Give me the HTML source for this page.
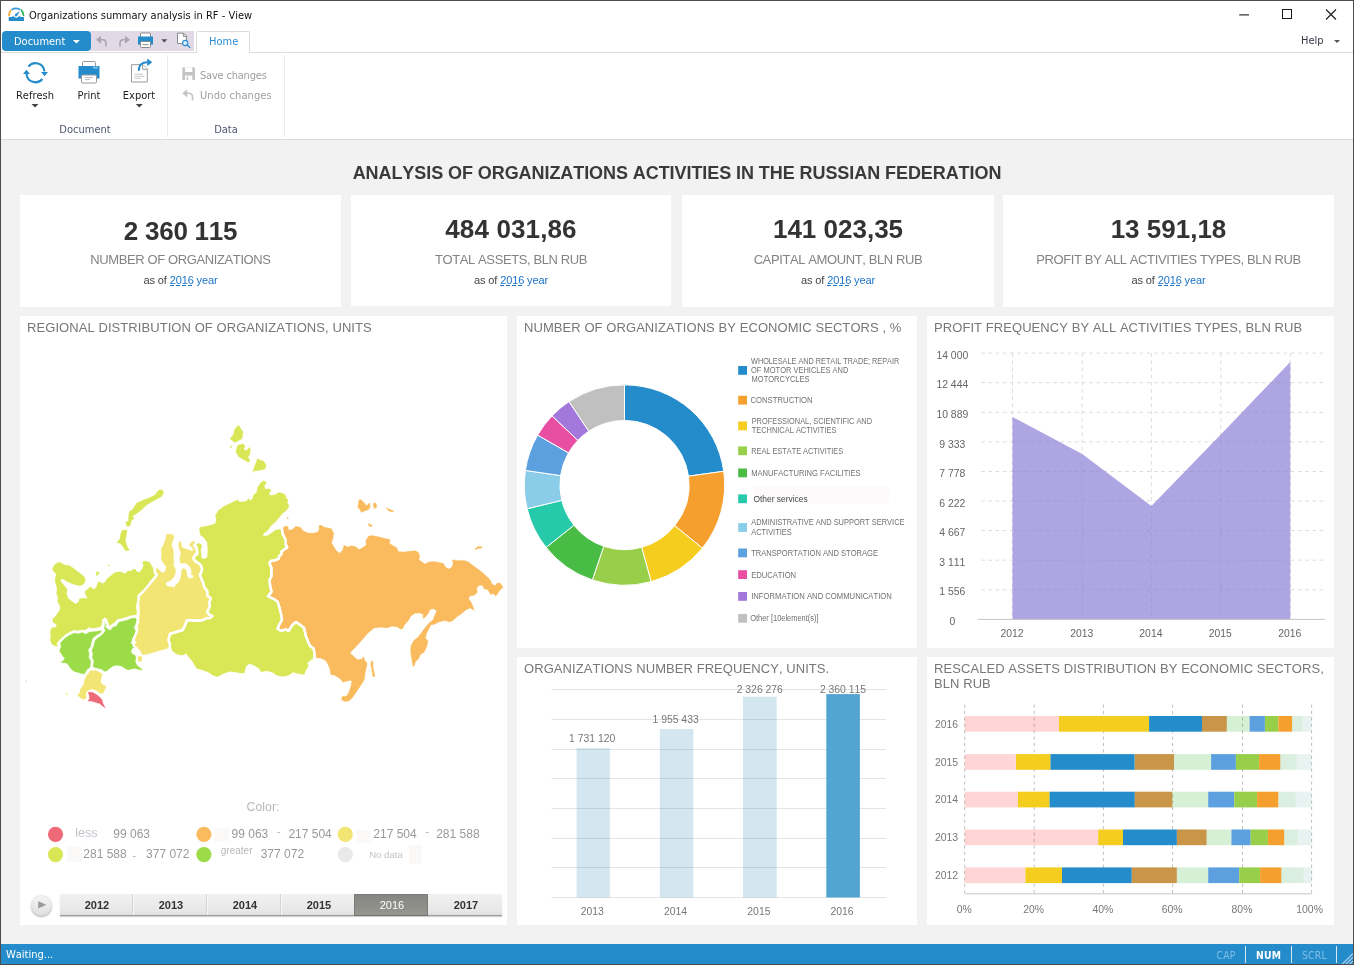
<!DOCTYPE html>
<html lang="en">
<head>
<meta charset="utf-8">
<title>Organizations summary analysis in RF - View</title>
<style>
*{box-sizing:border-box;margin:0;padding:0}
html,body{width:1354px;height:965px;overflow:hidden;background:#f2f2f2}
body{position:relative;font-kerning:none;font-family:"Liberation Sans",Arial,sans-serif;font-size:12px;color:#333}
.abs{position:absolute}
.t{position:absolute;white-space:pre;line-height:1}
.ui{font-family:"DejaVu Sans Condensed","DejaVu Sans","Liberation Sans",sans-serif;font-size:11px;letter-spacing:0;color:#1e1e1e}
.panel{position:absolute;background:#fff}
.ptitle{position:absolute;left:7px;top:4px;font-size:13px;letter-spacing:.07px;color:#777;line-height:15px;white-space:pre}
.kpi{position:absolute;background:#fff;top:195px;height:112px;text-align:center}
.kpi .v{position:absolute;left:0;right:0;top:19px;font-weight:bold;font-size:26px;line-height:30px;color:#333}
.kpi .l{position:absolute;left:0;right:0;top:57px;font-size:13px;line-height:16px;color:#838383;letter-spacing:-.39px}
.kpi .d{position:absolute;left:0;right:0;top:79px;font-size:11px;line-height:13px;color:#444;letter-spacing:-.13px}
.kpi .d b{font-weight:normal;color:#1a73c8}
.kpi .d u{text-decoration:none;padding-bottom:0;background:repeating-linear-gradient(90deg,#1a73c8 0,#1a73c8 4px,transparent 4px,transparent 6px) left bottom/100% 1px no-repeat}
svg{position:absolute;left:0;top:0;overflow:visible}
svg text{font-family:"Liberation Sans",Arial,sans-serif;font-kerning:none}
</style>
</head>
<body>
<!-- ===== window chrome ===== -->
<div class="abs" style="left:0;top:0;width:1354px;height:140px;background:#fff"></div>
<!-- app icon -->
<svg width="30" height="30" viewBox="0 0 30 30">
  <path d="M10.5 10.8 Q9.2 12.6 9.1 15.4" fill="none" stroke="#f5a93b" stroke-width="1.8" stroke-linecap="round"/>
  <path d="M12.1 9.45 Q15.9 7.55 19.5 9.3" fill="none" stroke="#3b9bd8" stroke-width="1.8" stroke-linecap="round"/>
  <path d="M21.4 10.1 Q23.3 12.3 23.5 15.3" fill="none" stroke="#2fb457" stroke-width="1.8" stroke-linecap="round"/>
  <path d="M19.9 10.9 L15.4 14.1 A1.25 1.25 0 1 0 17.2 15.6 Z" fill="#2a8dd4"/>
  <path d="M8.7 21 V17.4 Q8.7 17 9.2 17 H11.8 L13 16.1 L14.4 16.9 L16.3 18 L18 16.9 L19.3 16.1 L20.6 17 H23.4 Q24 17 24 17.4 V21 Z" fill="#258ccb"/>
</svg>
<div class="t ui" style="left:29px;top:10px;color:#111">Organizations summary analysis in RF - View</div>
<!-- window buttons -->
<svg width="1354" height="30" viewBox="0 0 1354 30">
  <path d="M1239.2 14.9 H1249" stroke="#1a1a1a" stroke-width="1.1" fill="none"/>
  <rect x="1282.5" y="9.5" width="9" height="9" fill="none" stroke="#1a1a1a" stroke-width="1"/>
  <path d="M1326 9.5 L1336 19.5 M1336 9.5 L1326 19.5" stroke="#1a1a1a" stroke-width="1.1" fill="none"/>
</svg>
<!-- tab row -->
<div class="abs" style="left:0;top:52px;width:1354px;height:1px;background:#dcdcdc"></div>
<div class="abs" style="left:90px;top:31px;width:104px;height:20px;background:#e2d9e6"></div>
<div class="abs" style="left:2px;top:31px;width:89px;height:20px;background:#258ccb;border-radius:4px"></div>
<div class="t ui" style="left:14px;top:36px;color:#fff">Document</div>
<svg width="100" height="60" viewBox="0 0 100 60"><path d="M72.9 40 H79.9 L76.4 43.6 Z" fill="#fff"/></svg>
<svg width="260" height="60" viewBox="0 0 260 60">
  <!-- undo -->
  <path d="M100.5 39.8 H103 Q106 39.8 106 43.2 V46.5" fill="none" stroke="#aaa5ae" stroke-width="1.6"/>
  <path d="M96 39.8 L101 35.8 V43.8 Z" fill="#aaa5ae"/>
  <!-- redo -->
  <path d="M125.5 39.8 H123 Q120 39.8 120 43.2 V46.5" fill="none" stroke="#aaa5ae" stroke-width="1.6"/>
  <path d="M130 39.8 L125 35.8 V43.8 Z" fill="#aaa5ae"/>
  <!-- printer -->
  <rect x="140.5" y="33" width="10" height="5" rx="1" fill="#fff" stroke="#8a8a8a" stroke-width="1"/>
  <rect x="138" y="36.5" width="15" height="8" fill="#258ccb"/>
  <rect x="140.5" y="41.5" width="10" height="6" rx="1" fill="#fff" stroke="#8a8a8a" stroke-width="1"/>
  <path d="M142.5 44.6 H148.5" stroke="#8a8a8a" stroke-width="1"/>
  <!-- arrow -->
  <path d="M161.3 39.3 H167.3 L164.3 42.4 Z" fill="#4d4d4d"/>
  <!-- preview -->
  <path d="M177.5 33.2 H183.5 L186.5 36.2 V43.5 H177.5 Z" fill="#fff" stroke="#8a8a8a" stroke-width="1"/>
  <path d="M183.3 33.2 V36.4 H186.5" fill="none" stroke="#8a8a8a" stroke-width="1"/>
  <circle cx="185.2" cy="43" r="2.6" fill="#dceefa" stroke="#2a8dd4" stroke-width="1.1"/>
  <path d="M187.2 45 L190.2 47.8" stroke="#2a8dd4" stroke-width="1.3"/>
</svg>
<div class="abs" style="left:196px;top:31px;width:54px;height:22px;background:#fff;border:1px solid #dcdcdc;border-bottom:0;border-radius:2px 2px 0 0"></div>
<div class="t ui" style="left:209px;top:36px;color:#2a8dd4">Home</div>
<div class="t ui" style="left:1301px;top:35px;color:#353545">Help</div>
<svg width="1354" height="60" viewBox="0 0 1354 60"><path d="M1334 40 H1340 L1337 43 Z" fill="#555"/></svg>
<!-- ===== ribbon body ===== -->
<div class="abs" style="left:0;top:139px;width:1354px;height:1px;background:#dcdcdc"></div>
<div class="abs" style="left:167px;top:55px;width:1px;height:82px;background:#ebebeb"></div>
<div class="abs" style="left:284px;top:55px;width:1px;height:82px;background:#ebebeb"></div>
<svg width="300" height="140" viewBox="0 0 300 140">
  <!-- refresh -->
  <path d="M28.4 66.6 A9 9 0 0 1 44.4 71.5" fill="none" stroke="#258ccb" stroke-width="2.1"/>
  <path d="M41 72 H48 L44.6 76.2 Z" fill="#258ccb"/>
  <path d="M42.4 79 A9 9 0 0 1 26.5 74" fill="none" stroke="#258ccb" stroke-width="2.1"/>
  <path d="M23 74 H30 L26.4 69.8 Z" fill="#258ccb"/>
  <path d="M31.5 104 H38.5 L35 107.5 Z" fill="#444"/>
  <!-- print -->
  <rect x="82.5" y="61.5" width="13" height="6" rx="1" fill="#fff" stroke="#9a9a9a" stroke-width="1"/>
  <rect x="78.5" y="66" width="21" height="12.5" fill="#258ccb"/>
  <rect x="93" y="66.6" width="5" height="2" fill="#7fc0ea"/>
  <rect x="81.5" y="75" width="15" height="8" rx="1" fill="#fff" stroke="#9a9a9a" stroke-width="1"/>
  <path d="M85 77.6 H93 M85 79.6 H90" stroke="#bdbdbd" stroke-width="1"/>
  <!-- export -->
  <path d="M131.5 64.7 H143 L147.3 69 V82 H131.5 Z" fill="#fff" stroke="#9a9a9a" stroke-width="1"/>
  <path d="M142.6 64.7 V69.3 H147.3" fill="#fff" stroke="#9a9a9a" stroke-width="1"/>
  <path d="M134.5 74.2 H143 M134.5 76.3 H144.5 M134.5 78.4 H140.5" stroke="#c6c6c6" stroke-width="1"/>
  <path d="M138.9 70.8 Q138.5 62.2 147.5 62.2" fill="none" stroke="#258ccb" stroke-width="1.9"/>
  <path d="M147.2 58.4 L152.3 62.2 L147.2 66 Z" fill="#258ccb"/>
  <path d="M135.8 104 H142.8 L139.3 107.5 Z" fill="#444"/>
  <!-- save (disabled) -->
  <path d="M182.3 67.4 H195 V80 H182.3 Z" fill="#c4c4c4"/>
  <rect x="185" y="67.4" width="7.3" height="4.6" fill="#fff"/>
  <rect x="185" y="75.6" width="7.3" height="4.4" fill="#fff"/>
  <rect x="186.6" y="76.6" width="1.6" height="3.4" fill="#c4c4c4"/>
  <!-- undo (disabled) -->
  <path d="M186.5 93.3 H189 Q192.5 93.3 192.5 97 V100.5" fill="none" stroke="#c4c4c4" stroke-width="1.6"/>
  <path d="M182.2 93.3 L187.3 89.3 V97.3 Z" fill="#c4c4c4"/>
</svg>
<div class="t ui" style="left:0;top:90px;width:70px;text-align:center">Refresh</div>
<div class="t ui" style="left:54px;top:90px;width:70px;text-align:center">Print</div>
<div class="t ui" style="left:104px;top:90px;width:70px;text-align:center">Export</div>
<div class="t ui" style="left:200px;top:70px;color:#a0a0a0;letter-spacing:-.2px">Save changes</div>
<div class="t ui" style="left:200px;top:90px;color:#a0a0a0;letter-spacing:.1px">Undo changes</div>
<div class="t ui" style="left:35px;top:124px;width:100px;text-align:center;color:#4f5870">Document</div>
<div class="t ui" style="left:176px;top:124px;width:100px;text-align:center;color:#4f5870">Data</div>
<!-- ===== heading + KPI cards ===== -->
<div class="t" style="left:0;top:164px;width:1354px;text-align:center;font-weight:bold;font-size:18px;letter-spacing:-.07px;color:#3a3a3a">ANALYSIS OF ORGANIZATIONS ACTIVITIES IN THE RUSSIAN FEDERATION</div>
<div class="kpi" style="left:20px;width:321px"><div class="v" style="top:21px;letter-spacing:-.25px">2 360 115</div><div class="l">NUMBER OF ORGANIZATIONS</div><div class="d">as of <b><u>2016</u> year</b></div></div>
<div class="kpi" style="left:351px;width:320px;height:111px"><div class="v" style="letter-spacing:.13px">484 031,86</div><div class="l">TOTAL ASSETS, BLN RUB</div><div class="d">as of <b><u>2016</u> year</b></div></div>
<div class="kpi" style="left:682px;width:312px"><div class="v">141 023,35</div><div class="l">CAPITAL AMOUNT, BLN RUB</div><div class="d">as of <b><u>2016</u> year</b></div></div>
<div class="kpi" style="left:1003px;width:331px"><div class="v">13 591,18</div><div class="l">PROFIT BY ALL ACTIVITIES TYPES, BLN RUB</div><div class="d">as of <b><u>2016</u> year</b></div></div>
<!-- ===== panels ===== -->
<div class="panel" style="left:20px;top:316px;width:487px;height:609px"><div class="ptitle">REGIONAL DISTRIBUTION OF ORGANIZATIONS, UNITS</div></div>
<div class="panel" style="left:517px;top:316px;width:400px;height:332px"><div class="ptitle">NUMBER OF ORGANIZATIONS BY ECONOMIC SECTORS , %</div></div>
<div class="panel" style="left:927px;top:316px;width:407px;height:332px"><div class="ptitle">PROFIT FREQUENCY BY ALL ACTIVITIES TYPES, BLN RUB</div></div>
<div class="panel" style="left:517px;top:657px;width:400px;height:268px"><div class="ptitle">ORGANIZATIONS NUMBER FREQUENCY, UNITS.</div></div>
<div class="panel" style="left:927px;top:657px;width:407px;height:268px"><div class="ptitle">RESCALED ASSETS DISTRIBUTION BY ECONOMIC SECTORS,
BLN RUB</div></div>
<!-- ===== map ===== -->
<svg width="1354" height="965" viewBox="0 0 1354 965">
<polygon points="52.4,569.2 54.0,565.5 57.6,562.4 60.7,562.4 64.4,565.0 69.0,565.5 73.2,568.1 77.3,571.2 81.5,574.4 84.6,576.9 85.4,580.6 83.5,584.2 79.9,585.8 75.2,584.7 71.1,583.2 66.9,581.6 63.3,579.0 60.2,579.2 61.2,582.1 64.4,585.8 67.2,589.4 66.4,593.5 68.0,598.2 71.6,601.3 75.8,603.9 78.9,601.8 79.4,598.7 83.5,598.2 87.5,598.5 86.1,595.1 84.6,592.0 87.2,589.4 90.3,586.8 93.9,589.4 96.5,587.3 97.5,583.2 99.6,581.6 102.2,583.7 105.3,582.1 107.2,578.5 110.5,575.9 114.6,572.8 118.8,571.8 121.9,572.3 125.0,573.8 127.6,571.2 131.2,570.7 134.8,568.7 136.9,571.8 139.5,572.3 142.1,569.2 143.6,565.5 142.6,561.9 145.7,560.9 149.8,562.4 151.4,565.5 153.5,568.7 154.0,572.3 155.5,575.9 153.0,579.0 149.8,582.1 146.7,586.3 143.6,589.9 140.5,592.5 137.9,595.6 137.4,601.8 136.4,606.5 137.2,612.2 136.9,614.8 131.2,615.3 127.0,616.8 122.9,617.9 118.8,618.9 115.6,621.5 112.5,624.1 109.4,626.7 107.9,622.5 107.4,618.9 104.8,617.4 102.7,619.4 102.2,623.1 100.6,626.7 96.0,627.7 91.8,628.2 88.7,627.2 85.6,629.8 81.5,629.8 78.3,630.6 74.2,630.3 70.1,632.4 65.9,635.0 62.3,638.1 59.2,641.2 57.1,643.3 58.1,646.4 55.5,645.9 51.9,644.3 50.4,640.2 50.9,636.0 50.2,631.9 51.9,627.7 56.1,627.2 56.6,624.1 53.5,623.1 52.4,619.4 55.5,616.3 58.1,612.7 60.2,609.1 59.7,604.9 57.6,601.8 58.1,597.7 56.6,593.5 57.1,588.3 55.5,583.2 55.0,578.0 56.6,574.4 54.0,571.8" fill="#d9e757" stroke="#d9e757" stroke-width="0.3"/>
<polygon points="158.2,490.4 161.9,489.6 163.8,492.6 161.9,496.3 156.7,499.2 152.3,501.5 146.4,505.1 141.9,509.6 136.0,514.0 132.3,516.2 134.5,518.4 131.6,519.9 130.1,525.8 127.1,526.6 125.4,522.1 128.3,521.4 128.6,516.2 129.4,511.8 133.1,508.8 136.8,502.9 143.4,500.0 149.3,497.8 155.2,494.8" fill="#d9e757" stroke="#d9e757" stroke-width="0.3"/>
<polygon points="59.7,642.5 63.8,638.3 68.0,635.2 73.2,633.1 78.3,633.7 82.5,632.6 85.6,634.2 89.7,632.1 94.9,631.6 99.1,631.1 102.2,630.5 101.1,633.1 98.0,634.7 94.9,636.8 92.8,638.8 91.8,643.0 90.8,647.1 88.7,649.7 89.7,653.9 89.2,657.5 91.3,661.1 90.8,664.7 89.7,667.8 87.2,668.9 86.1,671.5 85.1,674.6 82.5,673.9 78.3,672.5 74.2,671.5 71.1,668.9 69.0,665.8 66.9,663.2 63.8,662.7 60.7,662.2 63.3,660.6 64.9,658.5 62.3,655.4 59.7,651.3 60.7,647.1 60.2,644.5" fill="#9bdc48" stroke="#9bdc48" stroke-width="0.3"/>
<polygon points="104.8,621.2 106.3,624.3 105.3,626.9 107.4,629.0 110.5,630.5 112.5,627.4 116.7,625.9 118.8,622.3 122.9,621.2 127.0,620.2 131.2,618.6 135.3,618.1 136.9,620.2 135.9,624.3 134.3,627.4 136.4,631.6 134.8,635.7 132.7,639.9 131.2,643.0 133.3,646.1 135.3,647.6 132.2,649.2 130.7,651.3 132.7,654.4 134.8,654.9 135.9,657.5 135.3,661.6 136.9,665.3 140.0,667.8 142.6,669.9 138.4,669.4 135.3,668.4 131.2,668.9 128.1,669.9 125.0,668.4 121.9,666.3 117.7,665.3 113.6,665.8 110.5,667.8 107.4,670.4 105.3,671.5 102.2,669.9 98.0,668.9 93.9,667.8 92.8,664.7 93.4,661.1 91.8,657.5 92.3,653.9 91.3,650.2 92.8,647.1 93.9,643.0 94.9,639.9 98.0,637.3 101.1,635.2 103.7,632.6 105.8,630.5 104.2,628.5 104.8,625.4 104.2,622.3" fill="#9bdc48" stroke="#9bdc48" stroke-width="0.3"/>
<polygon points="89.7,671.0 96.5,670.4 101.1,672.5 102.2,674.6 101.1,678.2 100.6,682.4 103.2,684.9 106.3,686.5 104.8,689.6 102.7,693.8 100.1,693.2 96.5,690.6 92.8,689.1 88.7,690.1 86.1,692.2 85.6,695.8 86.6,697.4 84.0,699.5 80.9,697.9 77.3,695.0 79.9,692.7 80.4,689.1 82.5,686.5 84.0,683.4 84.6,678.7 86.1,675.1 88.7,673.0" fill="#f2e573" stroke="#f2e573" stroke-width="0.3"/>
<polygon points="166.8,534.1 173.0,534.4 174.0,537.8 172.0,542.4 171.5,545.5 173.5,550.7 173.3,555.9 174.0,561.1 173.5,565.2 175.6,569.4 175.1,574.6 173.0,578.2 169.9,580.8 166.3,582.3 165.8,584.4 167.8,586.5 171.5,586.8 174.6,587.5 175.6,584.9 178.7,582.3 180.8,577.7 181.3,573.5 181.8,569.4 183.9,568.3 186.0,569.9 186.8,573.5 187.5,577.2 190.1,578.7 193.2,577.7 193.4,575.6 191.1,574.6 191.7,571.5 190.6,567.8 188.5,565.2 186.0,563.2 182.8,563.2 180.6,563.2 179.7,558.5 181.0,553.8 179.7,549.7 178.5,545.5 179.2,541.9 181.0,541.4 181.3,545.5 182.8,548.1 186.5,549.2 190.1,550.2 192.2,551.2 193.4,549.7 191.7,547.1 189.1,545.0 191.1,542.4 193.2,540.9 194.8,542.2 192.7,545.5 194.8,548.7 195.8,551.8 193.7,554.4 192.0,557.5 192.2,560.1 194.8,562.1 198.4,563.2 201.0,565.2 202.0,568.9 201.5,571.5 199.9,574.6 201.5,578.7 203.1,582.8 204.1,587.0 207.2,591.1 207.2,595.3 210.8,598.4 209.3,602.5 209.8,606.7 207.2,611.9 209.3,614.5 212.4,616.0 209.8,618.1 206.7,618.1 202.5,620.2 197.4,620.7 192.2,620.2 187.0,620.2 185.4,624.3 183.9,627.9 182.8,630.0 170.0,633.9 168.5,639.8 170.0,644.9 167.8,648.6 161.1,650.1 153.7,652.3 146.4,654.5 141.9,654.5 140.7,650.8 137.5,648.6 134.5,646.4 136.0,642.0 133.8,639.8 137.8,630.0 137.3,626.9 138.8,622.2 139.1,616.0 139.3,608.8 138.8,602.5 139.8,596.3 142.4,593.7 145.5,590.1 149.2,586.0 152.3,581.8 155.9,577.2 157.5,574.6 155.9,571.5 156.7,567.8 159.5,570.4 162.6,573.0 165.2,571.5 166.3,567.3 164.2,563.7 161.1,559.5 161.6,554.9 161.1,549.2 163.2,545.5 165.2,540.4" fill="#f2e573" stroke="#f2e573" stroke-width="0.3"/>
<polygon points="199.4,530.0 200.5,535.2 203.6,537.3 207.2,541.9 207.9,550.7 207.2,557.5 204.1,559.0 201.5,558.2 201.1,554.9 200.7,549.7 202.0,545.0 198.4,543.3 196.3,544.5 197.9,547.1 198.6,550.7 198.9,554.9 196.8,555.7 195.1,558.0 196.3,560.6 198.4,563.2 201.0,565.2 202.0,568.9 201.5,571.5 199.9,574.6 201.5,578.7 203.1,582.8 204.1,587.0 207.2,591.1 207.2,595.3 210.8,598.4 209.3,602.5 209.8,606.7 207.2,611.9 209.3,614.5 212.4,616.0 209.8,618.1 206.7,618.1 202.5,620.2 197.4,620.7 192.2,620.2 187.0,620.2 185.4,624.3 183.9,627.9 182.8,630.0 170.0,633.9 168.5,639.8 170.0,644.9 171.5,650.1 175.9,653.8 181.8,655.3 186.2,653.4 189.2,657.5 192.9,661.9 196.6,668.6 202.5,670.0 208.4,672.3 212.8,675.2 217.3,676.7 223.2,673.7 229.1,671.5 235.0,672.0 240.0,673.0 244.3,673.0 245.8,666.4 249.5,663.4 254.7,665.6 259.1,668.6 261.3,672.0 266.5,670.8 272.4,672.3 276.8,675.2 282.7,676.4 288.6,675.2 293.1,672.3 299.0,673.7 304.1,674.5 305.6,670.8 308.6,665.6 307.1,663.4 310.0,660.4 313.7,658.2 314.5,654.5 313.7,648.6 310.0,645.7 307.8,641.2 305.6,635.3 304.1,627.9 300.4,625.0 296.0,622.0 292.3,625.0 288.6,630.9 285.7,629.4 281.2,630.9 277.5,628.7 279.0,625.0 282.0,619.8 281.2,614.7 279.8,608.7 277.5,601.4 273.9,599.1 267.9,596.2 271.6,591.8 270.2,586.6 269.5,580.0 271.4,576.5 271.4,572.8 271.4,567.6 270.3,565.4 269.5,562.8 271.0,561.0 275.5,560.2 278.8,558.7 279.1,556.2 281.4,554.3 281.7,551.4 284.3,549.5 287.3,547.3 285.8,544.7 285.8,540.3 284.3,537.3 282.5,533.6 282.1,529.9 280.5,529.1 275.3,530.3 272.4,532.5 267.9,535.4 263.5,536.2 262.8,534.7 265.0,532.5 267.9,530.3 270.9,525.8 275.3,522.1 278.3,518.4 282.0,514.0 286.4,510.3 289.1,506.6 287.1,502.2 288.3,500.0 286.4,498.5 285.7,495.5 282.7,493.3 278.3,492.6 275.3,494.8 270.9,495.5 268.7,494.1 270.9,491.1 270.2,488.9 265.0,488.9 264.3,485.9 266.5,482.3 263.5,480.8 260.6,483.0 257.6,487.4 256.9,491.9 253.2,495.5 252.9,498.5 250.2,500.7 248.7,498.5 245.8,501.5 239.1,501.9 238.4,500.0 235.5,500.7 229.5,503.7 223.6,506.6 218.5,510.3 215.5,515.5 216.2,519.9 215.5,523.6 208.9,525.8 200.0,527.3" fill="#d9e757" stroke="#d9e757" stroke-width="0.3"/>
<polygon points="283.5,526.6 287.9,526.3 288.6,530.3 292.3,529.5 296.0,526.3 300.4,527.3 303.4,531.0 307.8,532.9 313.7,533.2 318.2,531.7 319.4,528.8 318.9,525.8 321.1,525.1 324.1,527.3 328.5,528.0 331.5,528.8 333.7,533.2 332.9,539.1 331.5,542.8 333.7,546.5 336.6,550.9 339.6,553.2 342.5,550.2 344.0,545.0 343.7,544.9 347.4,547.1 351.8,545.7 356.2,547.1 359.2,549.4 363.6,547.1 366.3,544.9 365.8,540.5 368.8,536.1 372.5,535.6 378.4,536.8 384.3,538.3 390.2,539.8 389.5,543.5 393.2,545.7 396.9,547.9 398.3,551.6 403.5,551.9 409.4,551.3 415.3,550.8 418.3,552.3 419.8,556.0 419.0,559.7 422.0,561.9 424.9,564.1 428.6,561.9 434.5,561.6 440.4,562.7 443.4,563.4 445.6,567.1 448.6,569.0 452.0,567.1 453.0,563.4 452.3,559.7 456.7,560.4 464.1,560.4 468.5,561.9 474.4,566.4 480.3,570.8 485.5,575.2 489.9,579.4 492.1,584.1 495.1,585.8 497.3,582.9 500.3,583.3 503.2,587.3 500.3,589.7 498.1,592.9 495.8,596.2 493.6,593.7 490.7,594.4 487.7,589.7 484.0,588.8 482.5,585.3 478.8,585.6 476.6,588.2 477.4,592.2 474.4,595.2 470.0,595.9 468.5,598.6 471.5,602.8 472.9,606.5 474.4,610.2 470.0,608.0 465.6,610.2 461.1,613.9 456.7,616.9 453.0,620.6 449.3,622.0 444.9,620.6 439.0,622.0 434.5,624.3 430.8,625.0 428.6,629.4 426.4,633.9 425.4,638.3 427.9,640.5 427.1,645.7 424.2,652.3 420.5,654.5 419.0,658.2 415.3,661.9 414.6,665.6 413.1,666.4 411.6,659.0 410.6,651.6 410.9,645.7 413.9,640.5 418.3,636.8 421.2,633.1 424.9,627.9 428.6,623.5 433.1,619.8 434.5,615.4 436.8,611.0 433.8,608.7 430.1,609.5 427.9,613.9 424.9,617.6 422.7,618.3 423.5,614.7 419.8,612.9 414.6,613.5 410.9,616.1 407.9,621.3 404.3,625.0 402.8,628.7 400.6,629.1 396.9,626.8 391.7,626.2 387.3,627.9 381.4,627.2 374.0,627.9 368.1,633.1 362.2,639.8 356.2,646.4 350.0,652.8 354.0,656.8 357.7,659.7 361.4,659.3 363.6,656.8 364.8,660.4 367.3,663.4 366.3,667.8 365.1,673.7 364.4,679.6 360.7,685.6 356.2,692.2 352.6,697.4 348.9,701.1 344.4,701.5 341.5,699.6 342.2,696.6 346.6,695.9 348.9,692.2 351.1,685.6 351.8,680.8 348.9,680.4 343.0,682.3 339.6,678.2 334.4,675.2 330.7,674.5 330.0,669.3 327.8,664.1 325.6,660.4 321.1,658.2 315.2,657.5 314.5,654.5 313.7,648.6 310.0,645.7 307.8,641.2 305.6,635.3 304.1,627.9 300.4,625.0 296.0,622.0 292.3,625.0 288.6,630.9 285.7,629.4 281.2,630.9 277.5,628.7 279.0,625.0 282.0,619.8 281.2,614.7 279.8,608.7 277.5,601.4 273.9,599.1 267.9,596.2 271.6,591.8 270.2,586.6 269.5,580.0 271.4,576.5 271.4,572.8 271.4,567.6 270.3,565.4 269.5,562.8 271.0,561.0 275.5,560.2 278.8,558.7 279.1,556.2 281.4,554.3 281.7,551.4 284.3,549.5 287.3,547.3 285.8,544.7 285.8,540.3 284.3,537.3 282.5,533.6 282.1,529.9" fill="#f9bb5d" stroke="#f9bb5d" stroke-width="0.3"/>
<polygon points="96.5,571.8 99.6,572.3 98.0,574.9 96.0,575.4" fill="#d9e757" stroke="#d9e757" stroke-width="0.3"/>
<polygon points="108.2,564.5 109.6,565.3 108.6,566.6" fill="#d9e757" stroke="#d9e757" stroke-width="0.3"/>
<polygon points="122.0,530.3 127.1,530.0 126.4,534.7 125.4,540.6 127.1,546.5 129.4,550.2 125.7,550.9 122.7,546.5 120.5,543.6 116.8,542.4 119.8,539.1 120.5,534.7" fill="#d9e757" stroke="#d9e757" stroke-width="0.3"/>
<polygon points="65.4,693.2 66.7,693.8 67.8,695.3 66.4,694.8" fill="#f2e573" stroke="#f2e573" stroke-width="0.3"/>
<polygon points="138.4,656.5 141.0,655.9 142.1,659.0 141.0,661.6 138.4,661.4 137.9,658.5" fill="#f2e573" stroke="#f2e573" stroke-width="0.3"/>
<polygon points="88.2,692.2 92.3,692.2 96.0,694.3 99.6,696.9 102.2,700.0 102.7,703.1 104.2,705.7 105.3,707.7 102.7,706.2 99.6,703.6 96.0,702.6 91.8,701.2 88.2,701.0 89.5,698.4 89.2,695.3" fill="#ef6a78" stroke="#ef6a78" stroke-width="0.3"/>
<polygon points="238.4,425.1 243.1,432.0 242.1,438.7 234.7,442.4 230.0,438.7 233.7,434.2 234.3,429.8" fill="#d9e757" stroke="#d9e757" stroke-width="0.3"/>
<polygon points="230.3,446.1 231.9,446.4 231.6,447.5 230.1,447.5" fill="#d9e757" stroke="#d9e757" stroke-width="0.3"/>
<polygon points="237.7,445.3 242.8,443.8 245.1,446.1 243.6,449.8 246.5,450.5 249.5,447.2 250.5,449.8 249.9,454.2 248.0,457.1 249.9,460.8 248.7,462.3 244.3,460.1 238.4,456.4 235.7,451.2" fill="#d9e757" stroke="#d9e757" stroke-width="0.3"/>
<polygon points="257.6,458.6 259.8,460.1 263.5,461.1 266.2,465.3 265.0,469.0 259.1,470.4 253.9,470.9 252.4,472.4 253.9,468.2 255.8,463.1" fill="#d9e757" stroke="#d9e757" stroke-width="0.3"/>
<polygon points="371.3,660.9 372.8,661.2 373.2,667.8 375.0,676.0 372.8,676.7 371.8,670.0 370.7,664.1" fill="#f9bb5d" stroke="#f9bb5d" stroke-width="0.3"/>
<polygon points="358.5,500.2 360.7,499.6 363.6,502.1 366.6,505.8 369.5,502.8 370.3,506.5 368.8,509.5 364.4,511.0 361.4,512.4 359.9,509.5 357.7,507.3 358.5,503.6" fill="#f9bb5d" stroke="#f9bb5d" stroke-width="0.3"/>
<polygon points="373.7,502.8 376.2,503.6 376.9,507.0 374.7,508.7 373.2,506.1" fill="#f9bb5d" stroke="#f9bb5d" stroke-width="0.3"/>
<polygon points="386.1,507.7 390.2,509.5 393.9,511.0 392.4,512.1 388.7,511.0" fill="#f9bb5d" stroke="#f9bb5d" stroke-width="0.3"/>
<polygon points="368.1,523.5 371.3,524.7 372.5,526.5 369.2,526.2" fill="#f9bb5d" stroke="#f9bb5d" stroke-width="0.3"/>
<polygon points="475.2,548.6 478.1,546.4 481.8,546.4 481.5,548.3 478.1,548.6 475.6,549.8" fill="#f9bb5d" stroke="#f9bb5d" stroke-width="0.3"/>
<polygon points="287.1,517.4 288.2,517.4 288.2,518.6 287.1,518.6" fill="#f9bb5d" stroke="#f9bb5d" stroke-width="0.3"/>
<g fill="none" stroke="#fff" stroke-linejoin="round" stroke-linecap="round">
<polyline points="153.5,568.7 154.0,572.3 155.5,575.9" stroke-width="0.9"/>
<polyline points="155.5,575.9 153.0,579.0" stroke-width="1.5"/>
<polyline points="153.0,579.0 149.8,582.1" stroke-width="1.2"/>
<polyline points="149.8,582.1 146.7,586.3 143.6,589.9 140.5,592.5 137.9,595.6 137.4,601.8 136.4,606.5 137.2,612.2 136.9,614.8" stroke-width="0.9"/>
<polyline points="118.8,618.9 115.6,621.5" stroke-width="0.9"/>
<polyline points="112.5,624.1 109.4,626.7 107.9,622.5" stroke-width="0.9"/>
<polyline points="102.7,619.4 102.2,623.1" stroke-width="0.9"/>
<polyline points="74.2,630.3 70.1,632.4" stroke-width="0.9"/>
<polyline points="70.1,632.4 65.9,635.0 62.3,638.1 59.2,641.2" stroke-width="1.2"/>
<polyline points="59.2,641.2 57.1,643.3 58.1,646.4" stroke-width="0.9"/>
<polyline points="102.2,630.5 101.1,633.1 98.0,634.7 94.9,636.8 92.8,638.8 91.8,643.0 90.8,647.1 88.7,649.7 89.7,653.9 89.2,657.5 91.3,661.1 90.8,664.7" stroke-width="0.9"/>
<polyline points="86.1,671.5 85.1,674.6 82.5,673.9" stroke-width="0.9"/>
<polyline points="60.7,647.1 60.2,644.5 59.7,642.5" stroke-width="0.9"/>
<polyline points="59.7,642.5 63.8,638.3 68.0,635.2" stroke-width="1.2"/>
<polyline points="68.0,635.2 73.2,633.1" stroke-width="0.9"/>
<polyline points="136.9,620.2 135.9,624.3 134.3,627.4 136.4,631.6" stroke-width="0.9"/>
<polyline points="136.4,631.6 134.8,635.7 132.7,639.9" stroke-width="1.8"/>
<polyline points="132.7,639.9 131.2,643.0" stroke-width="0.9"/>
<polyline points="133.3,646.1 135.3,647.6" stroke-width="1.8"/>
<polyline points="135.3,647.6 132.2,649.2" stroke-width="0.9"/>
<polyline points="102.2,669.9 98.0,668.9 93.9,667.8" stroke-width="0.9"/>
<polyline points="92.8,664.7 93.4,661.1 91.8,657.5 92.3,653.9 91.3,650.2 92.8,647.1 93.9,643.0 94.9,639.9 98.0,637.3 101.1,635.2 103.7,632.6" stroke-width="0.9"/>
<polyline points="104.8,625.4 104.2,622.3 104.8,621.2 106.3,624.3" stroke-width="0.9"/>
<polyline points="96.5,670.4 101.1,672.5" stroke-width="0.9"/>
<polyline points="84.6,678.7 86.1,675.1 88.7,673.0" stroke-width="0.9"/>
<polyline points="194.8,562.1 198.4,563.2" stroke-width="1.5"/>
<polyline points="198.4,563.2 201.0,565.2 202.0,568.9 201.5,571.5 199.9,574.6 201.5,578.7 203.1,582.8 204.1,587.0 207.2,591.1 207.2,595.3 210.8,598.4 209.3,602.5 209.8,606.7 207.2,611.9 209.3,614.5 212.4,616.0 209.8,618.1 206.7,618.1 202.5,620.2 197.4,620.7 192.2,620.2 187.0,620.2 185.4,624.3 183.9,627.9 182.8,630.0 170.0,633.9 168.5,639.8 170.0,644.9" stroke-width="2.4"/>
<polyline points="170.0,644.9 167.8,648.6" stroke-width="0.9"/>
<polyline points="137.5,648.6 134.5,646.4" stroke-width="1.8"/>
<polyline points="136.0,642.0 133.8,639.8" stroke-width="0.9"/>
<polyline points="133.8,639.8 137.8,630.0" stroke-width="1.8"/>
<polyline points="137.8,630.0 137.3,626.9 138.8,622.2 139.1,616.0 139.3,608.8 138.8,602.5 139.8,596.3 142.4,593.7 145.5,590.1 149.2,586.0 152.3,581.8" stroke-width="0.9"/>
<polyline points="152.3,581.8 155.9,577.2" stroke-width="1.2"/>
<polyline points="155.9,577.2 157.5,574.6" stroke-width="1.5"/>
<polyline points="157.5,574.6 155.9,571.5" stroke-width="0.9"/>
<polyline points="196.3,560.6 198.4,563.2" stroke-width="1.5"/>
<polyline points="198.4,563.2 201.0,565.2 202.0,568.9 201.5,571.5 199.9,574.6 201.5,578.7 203.1,582.8 204.1,587.0 207.2,591.1 207.2,595.3 210.8,598.4 209.3,602.5 209.8,606.7 207.2,611.9 209.3,614.5 212.4,616.0 209.8,618.1 206.7,618.1 202.5,620.2 197.4,620.7 192.2,620.2 187.0,620.2 185.4,624.3 183.9,627.9 182.8,630.0 170.0,633.9 168.5,639.8 170.0,644.9" stroke-width="2.4"/>
<polyline points="170.0,644.9 171.5,650.1" stroke-width="0.9"/>
<polyline points="313.7,658.2 314.5,654.5" stroke-width="1.8"/>
<polyline points="314.5,654.5 313.7,648.6 310.0,645.7 307.8,641.2 305.6,635.3 304.1,627.9 300.4,625.0 296.0,622.0 292.3,625.0 288.6,630.9 285.7,629.4 281.2,630.9 277.5,628.7 279.0,625.0 282.0,619.8 281.2,614.7 279.8,608.7 277.5,601.4 273.9,599.1 267.9,596.2 271.6,591.8 270.2,586.6 269.5,580.0 271.4,576.5 271.4,572.8 271.4,567.6 270.3,565.4 269.5,562.8 271.0,561.0 275.5,560.2 278.8,558.7 279.1,556.2 281.4,554.3 281.7,551.4 284.3,549.5 287.3,547.3 285.8,544.7 285.8,540.3 284.3,537.3 282.5,533.6 282.1,529.9" stroke-width="2.4"/>
<polyline points="282.1,529.9 280.5,529.1" stroke-width="1.5"/>
<polyline points="315.2,657.5 314.5,654.5" stroke-width="1.8"/>
<polyline points="314.5,654.5 313.7,648.6 310.0,645.7 307.8,641.2 305.6,635.3 304.1,627.9 300.4,625.0 296.0,622.0 292.3,625.0 288.6,630.9 285.7,629.4 281.2,630.9 277.5,628.7 279.0,625.0 282.0,619.8 281.2,614.7 279.8,608.7 277.5,601.4 273.9,599.1 267.9,596.2 271.6,591.8 270.2,586.6 269.5,580.0 271.4,576.5 271.4,572.8 271.4,567.6 270.3,565.4 269.5,562.8 271.0,561.0 275.5,560.2 278.8,558.7 279.1,556.2 281.4,554.3 281.7,551.4 284.3,549.5 287.3,547.3 285.8,544.7 285.8,540.3 284.3,537.3 282.5,533.6 282.1,529.9" stroke-width="2.4"/>
<polyline points="282.1,529.9 283.5,526.6" stroke-width="0.9"/>
</g>
<rect x="25.4" y="680.4" width="1.6" height="1.6" fill="#e2e2e2"/>
</svg>
<!-- ===== map legend + time slider ===== -->
<svg width="1354" height="965" viewBox="0 0 1354 965">
  <rect x="67" y="846.5" width="15" height="15.5" fill="#fbf9f8"/>
  <rect x="214.5" y="828" width="14.5" height="13" fill="#fbf9f8"/>
  <rect x="357" y="830" width="14" height="13" fill="#fbf9f8"/>
  <rect x="409" y="845" width="13" height="19" fill="#fbf9f8"/>
  <circle cx="55.5" cy="834.3" r="7.6" fill="#ef6a78"/>
  <circle cx="203.9" cy="834.3" r="7.6" fill="#f9bb5d"/>
  <circle cx="345.3" cy="834.3" r="7.6" fill="#f2e573"/>
  <circle cx="55.5" cy="854.6" r="7.6" fill="#d9e757"/>
  <circle cx="203.9" cy="854.6" r="7.6" fill="#9bdc48"/>
  <circle cx="345.3" cy="854.6" r="7.6" fill="#e9e9e9"/>
  <g font-size="12" fill="#999">
    <text x="263" y="811.3" text-anchor="middle" fill="#b9b9b9" font-size="12.3">Color:</text>
    <text x="75.2" y="837.2" fill="#c3c3cc" font-size="12.5">less</text>
    <text x="113.3" y="838.1">99 063</text>
    <text x="231.6" y="838.1">99 063</text>
    <text x="276.8" y="836.4" fill="#bbb">-</text>
    <text x="288.4" y="838.1">217 504</text>
    <text x="373.3" y="838.1">217 504</text>
    <text x="425.2" y="836.4" fill="#bbb">-</text>
    <text x="436.2" y="838.1">281 588</text>
    <text x="83.3" y="858.3">281 588</text>
    <text x="132.2" y="859.8" fill="#bbb">-</text>
    <text x="146.1" y="858.3">377 072</text>
    <text x="220.8" y="853.8" fill="#b8b8b8" font-size="10">greater</text>
    <text x="260.7" y="858.3">377 072</text>
    <text x="369.2" y="857.8" fill="#c4c4c4" font-size="9.6">No data</text>
  </g>
</svg>
<div class="abs" style="left:31px;top:895px;width:21px;height:21px;border-radius:50%;background:linear-gradient(#f6f6f6,#dedede);box-shadow:0 1px 1.5px rgba(0,0,0,.35),inset 0 0 0 1px rgba(0,0,0,.05)"></div>
<svg width="1354" height="965" viewBox="0 0 1354 965"><path d="M38.2 901.2 L46.3 904.8 L38.2 908.4 Z" fill="#9a9a9a"/></svg>
<div class="abs" style="left:60px;top:894px;width:442px;height:22px;background:linear-gradient(#f1f1f1,#e7e7e7 85%,#dcdcdc);border-bottom:1px solid #9f9f9f;box-shadow:0 1px 1px rgba(0,0,0,.18)"></div>
<div class="abs" style="left:354px;top:894px;width:74px;height:22px;background:linear-gradient(#858583,#96958f);border:1px solid #7c7b78;border-bottom-color:#72716e"></div>
<div class="abs" style="left:132px;top:894px;width:2px;height:21px;background:linear-gradient(90deg,#d4d4d4 50%,#f8f8f8 50%)"></div>
<div class="abs" style="left:206px;top:894px;width:2px;height:21px;background:linear-gradient(90deg,#d4d4d4 50%,#f8f8f8 50%)"></div>
<div class="abs" style="left:280px;top:894px;width:2px;height:21px;background:linear-gradient(90deg,#d4d4d4 50%,#f8f8f8 50%)"></div>
<div class="t" style="left:60px;top:900px;width:74px;text-align:center;font-weight:bold;font-size:11px;letter-spacing:0;color:#333">2012</div>
<div class="t" style="left:134px;top:900px;width:74px;text-align:center;font-weight:bold;font-size:11px;letter-spacing:0;color:#333">2013</div>
<div class="t" style="left:208px;top:900px;width:74px;text-align:center;font-weight:bold;font-size:11px;letter-spacing:0;color:#333">2014</div>
<div class="t" style="left:282px;top:900px;width:74px;text-align:center;font-weight:bold;font-size:11px;letter-spacing:0;color:#333">2015</div>
<div class="t" style="left:355px;top:900px;width:74px;text-align:center;font-size:11px;letter-spacing:0;color:#fff">2016</div>
<div class="t" style="left:429px;top:900px;width:74px;text-align:center;font-weight:bold;font-size:11px;letter-spacing:0;color:#333">2017</div>
<!-- ===== donut chart ===== -->
<svg width="1354" height="965" viewBox="0 0 1354 965">
<path d="M624.50 384.85 A100.2 100.2 0 0 1 723.75 471.28 L688.49 476.17 A64.6 64.6 0 0 0 624.50 420.45 Z" fill="#258ccb" stroke="#fff" stroke-width="1"/>
<path d="M723.75 471.28 A100.2 100.2 0 0 1 702.37 548.11 L674.70 525.70 A64.6 64.6 0 0 0 688.49 476.17 Z" fill="#f5a02e" stroke="#fff" stroke-width="1"/>
<path d="M702.37 548.11 A100.2 100.2 0 0 1 651.11 581.65 L641.65 547.33 A64.6 64.6 0 0 0 674.70 525.70 Z" fill="#f4cd1e" stroke="#fff" stroke-width="1"/>
<path d="M651.11 581.65 A100.2 100.2 0 0 1 592.37 579.96 L603.79 546.24 A64.6 64.6 0 0 0 641.65 547.33 Z" fill="#98cf4a" stroke="#fff" stroke-width="1"/>
<path d="M592.37 579.96 A100.2 100.2 0 0 1 546.08 547.43 L573.94 525.26 A64.6 64.6 0 0 0 603.79 546.24 Z" fill="#49bc46" stroke="#fff" stroke-width="1"/>
<path d="M546.08 547.43 A100.2 100.2 0 0 1 527.15 508.78 L561.74 500.35 A64.6 64.6 0 0 0 573.94 525.26 Z" fill="#27c9ab" stroke="#fff" stroke-width="1"/>
<path d="M527.15 508.78 A100.2 100.2 0 0 1 525.37 470.41 L560.59 475.61 A64.6 64.6 0 0 0 561.74 500.35 Z" fill="#8bcce8" stroke="#fff" stroke-width="1"/>
<path d="M525.37 470.41 A100.2 100.2 0 0 1 537.64 435.10 L568.50 452.85 A64.6 64.6 0 0 0 560.59 475.61 Z" fill="#5da0e0" stroke="#fff" stroke-width="1"/>
<path d="M537.64 435.10 A100.2 100.2 0 0 1 552.06 415.82 L577.80 440.42 A64.6 64.6 0 0 0 568.50 452.85 Z" fill="#e84fa3" stroke="#fff" stroke-width="1"/>
<path d="M552.06 415.82 A100.2 100.2 0 0 1 569.05 401.59 L588.75 431.24 A64.6 64.6 0 0 0 577.80 440.42 Z" fill="#a278dc" stroke="#fff" stroke-width="1"/>
<path d="M569.05 401.59 A100.2 100.2 0 0 1 624.50 384.85 L624.50 420.45 A64.6 64.6 0 0 0 588.75 431.24 Z" fill="#c0c0c0" stroke="#fff" stroke-width="1"/>
<rect x="753.3" y="486.2" width="135.3" height="17.1" fill="#fcfafa"/>
<rect x="738.2" y="366.0" width="8.8" height="8.8" fill="#258ccb"/>
<text x="751.0" y="364.1" font-size="8.3" textLength="148.2" lengthAdjust="spacingAndGlyphs" fill="#707070">WHOLESALE AND RETAIL TRADE; REPAIR</text>
<text x="751.0" y="372.9" font-size="8.3" textLength="97.4" lengthAdjust="spacingAndGlyphs" fill="#707070">OF MOTOR VEHICLES AND</text>
<text x="751.6" y="382.3" font-size="8.3" textLength="57.9" lengthAdjust="spacingAndGlyphs" fill="#707070">MOTORCYCLES</text>
<rect x="738.2" y="395.8" width="8.8" height="8.8" fill="#f5a02e"/>
<text x="750.4" y="403.4" font-size="8.3" textLength="62.3" lengthAdjust="spacingAndGlyphs" fill="#707070">CONSTRUCTION</text>
<rect x="738.2" y="421.5" width="8.8" height="8.8" fill="#f4cd1e"/>
<text x="751.7" y="423.7" font-size="8.3" textLength="120.3" lengthAdjust="spacingAndGlyphs" fill="#707070">PROFESSIONAL, SCIENTIFIC AND</text>
<text x="751.7" y="432.9" font-size="8.3" textLength="84.7" lengthAdjust="spacingAndGlyphs" fill="#707070">TECHNICAL ACTIVITIES</text>
<rect x="738.2" y="446.4" width="8.8" height="8.8" fill="#98cf4a"/>
<text x="751.2" y="454.0" font-size="8.3" textLength="92.0" lengthAdjust="spacingAndGlyphs" fill="#707070">REAL ESTATE ACTIVITIES</text>
<rect x="738.2" y="468.5" width="8.8" height="8.8" fill="#49bc46"/>
<text x="751.2" y="476.0" font-size="8.3" textLength="109.4" lengthAdjust="spacingAndGlyphs" fill="#707070">MANUFACTURING FACILITIES</text>
<rect x="738.2" y="494.4" width="8.8" height="8.8" fill="#27c9ab"/>
<text x="753.4" y="501.8" font-size="9" textLength="54.3" lengthAdjust="spacingAndGlyphs" fill="#444">Other services</text>
<rect x="738.2" y="523.1" width="8.8" height="8.8" fill="#8bcce8"/>
<text x="751.2" y="525.1" font-size="8.3" textLength="153.3" lengthAdjust="spacingAndGlyphs" fill="#707070">ADMINISTRATIVE AND SUPPORT SERVICE</text>
<text x="751.2" y="534.5" font-size="8.3" textLength="40.5" lengthAdjust="spacingAndGlyphs" fill="#707070">ACTIVITIES</text>
<rect x="738.2" y="548.5" width="8.8" height="8.8" fill="#5da0e0"/>
<text x="751.2" y="555.6" font-size="8.3" textLength="126.8" lengthAdjust="spacingAndGlyphs" fill="#707070">TRANSPORTATION AND STORAGE</text>
<rect x="738.2" y="570.2" width="8.8" height="8.8" fill="#e84fa3"/>
<text x="751.2" y="577.7" font-size="8.3" textLength="44.9" lengthAdjust="spacingAndGlyphs" fill="#707070">EDUCATION</text>
<rect x="738.2" y="592.0" width="8.8" height="8.8" fill="#a278dc"/>
<text x="751.2" y="599.1" font-size="8.3" textLength="140.6" lengthAdjust="spacingAndGlyphs" fill="#707070">INFORMATION AND COMMUNICATION</text>
<rect x="738.2" y="613.9" width="8.8" height="8.8" fill="#c0c0c0"/>
<text x="750.2" y="621.2" font-size="8.3" textLength="68.4" lengthAdjust="spacingAndGlyphs" fill="#707070">Other [10element(s)]</text>
</svg>
<!-- ===== area chart ===== -->
<svg width="1354" height="965" viewBox="0 0 1354 965">
<path d="M981.2 353.1 H1325.0" stroke="#dcdcdc" stroke-width="1" stroke-dasharray="3.6 3.6" fill="none"/>
<text x="952.3" y="358.7" font-size="10.4" text-anchor="middle" fill="#666">14 000</text>
<path d="M981.2 382.7 H1325.0" stroke="#dcdcdc" stroke-width="1" stroke-dasharray="3.6 3.6" fill="none"/>
<text x="952.3" y="388.3" font-size="10.4" text-anchor="middle" fill="#666">12 444</text>
<path d="M981.2 412.3 H1325.0" stroke="#dcdcdc" stroke-width="1" stroke-dasharray="3.6 3.6" fill="none"/>
<text x="952.3" y="417.9" font-size="10.4" text-anchor="middle" fill="#666">10 889</text>
<path d="M981.2 441.9 H1325.0" stroke="#dcdcdc" stroke-width="1" stroke-dasharray="3.6 3.6" fill="none"/>
<text x="952.3" y="447.5" font-size="10.4" text-anchor="middle" fill="#666">9 333</text>
<path d="M981.2 471.5 H1325.0" stroke="#dcdcdc" stroke-width="1" stroke-dasharray="3.6 3.6" fill="none"/>
<text x="952.3" y="477.1" font-size="10.4" text-anchor="middle" fill="#666">7 778</text>
<path d="M981.2 501.0 H1325.0" stroke="#dcdcdc" stroke-width="1" stroke-dasharray="3.6 3.6" fill="none"/>
<text x="952.3" y="506.6" font-size="10.4" text-anchor="middle" fill="#666">6 222</text>
<path d="M981.2 530.6 H1325.0" stroke="#dcdcdc" stroke-width="1" stroke-dasharray="3.6 3.6" fill="none"/>
<text x="952.3" y="536.2" font-size="10.4" text-anchor="middle" fill="#666">4 667</text>
<path d="M981.2 560.2 H1325.0" stroke="#dcdcdc" stroke-width="1" stroke-dasharray="3.6 3.6" fill="none"/>
<text x="952.3" y="565.8" font-size="10.4" text-anchor="middle" fill="#666">3 111</text>
<path d="M981.2 589.8 H1325.0" stroke="#dcdcdc" stroke-width="1" stroke-dasharray="3.6 3.6" fill="none"/>
<text x="952.3" y="595.4" font-size="10.4" text-anchor="middle" fill="#666">1 556</text>
<text x="952.3" y="625.0" font-size="10.4" text-anchor="middle" fill="#666">0</text>
<path d="M1012.5 353.1 V619.4" stroke="#dcdcdc" stroke-width="1" stroke-dasharray="3.6 3.6" fill="none"/>
<path d="M1082.2 353.1 V619.4" stroke="#dcdcdc" stroke-width="1" stroke-dasharray="3.6 3.6" fill="none"/>
<path d="M1151.4 353.1 V619.4" stroke="#dcdcdc" stroke-width="1" stroke-dasharray="3.6 3.6" fill="none"/>
<path d="M1220.8 353.1 V619.4" stroke="#dcdcdc" stroke-width="1" stroke-dasharray="3.6 3.6" fill="none"/>
<path d="M1290.3 353.1 V619.4" stroke="#dcdcdc" stroke-width="1" stroke-dasharray="3.6 3.6" fill="none"/>
<polygon points="1012.5,619.4 1012.5,417.0 1082.2,454.0 1151.4,506.0 1220.8,434.5 1290.3,362.0 1290.3,619.4" fill="#8679d5" fill-opacity="0.67"/>
<path d="M978 619.4 H1325.0" stroke="#c4c4c4" stroke-width="1" fill="none"/>
<text x="1012.0" y="637.3" font-size="10.4" text-anchor="middle" fill="#666">2012</text>
<text x="1081.7" y="637.3" font-size="10.4" text-anchor="middle" fill="#666">2013</text>
<text x="1150.9" y="637.3" font-size="10.4" text-anchor="middle" fill="#666">2014</text>
<text x="1220.3" y="637.3" font-size="10.4" text-anchor="middle" fill="#666">2015</text>
<text x="1289.8" y="637.3" font-size="10.4" text-anchor="middle" fill="#666">2016</text>
</svg>
<!-- ===== column chart ===== -->
<svg width="1354" height="965" viewBox="0 0 1354 965">
<path d="M551.5 689.5 H886.0" stroke="#e4e4e4" stroke-width="1" fill="none"/>
<path d="M551.5 719.5 H886.0" stroke="#e4e4e4" stroke-width="1" fill="none"/>
<path d="M551.5 749.5 H886.0" stroke="#e4e4e4" stroke-width="1" fill="none"/>
<path d="M551.5 778.5 H886.0" stroke="#e4e4e4" stroke-width="1" fill="none"/>
<path d="M551.5 808.5 H886.0" stroke="#e4e4e4" stroke-width="1" fill="none"/>
<path d="M551.5 838.5 H886.0" stroke="#e4e4e4" stroke-width="1" fill="none"/>
<path d="M551.5 867.5 H886.0" stroke="#e4e4e4" stroke-width="1" fill="none"/>
<path d="M551.5 897.5 H886.0" stroke="#e4e4e4" stroke-width="1" fill="none"/>
<rect x="576.6" y="748.2" width="33.3" height="149.3" fill="#2887b4" fill-opacity="0.2"/>
<text x="592.2" y="741.9" font-size="10.4" text-anchor="middle" fill="#777">1 731 120</text>
<text x="592.2" y="915.0" font-size="10.4" text-anchor="middle" fill="#777">2013</text>
<rect x="659.8" y="729.0" width="33.6" height="168.5" fill="#2887b4" fill-opacity="0.2"/>
<text x="675.6" y="722.7" font-size="10.4" text-anchor="middle" fill="#777">1 955 433</text>
<text x="675.6" y="915.0" font-size="10.4" text-anchor="middle" fill="#777">2014</text>
<rect x="743.0" y="696.7" width="33.7" height="200.8" fill="#2887b4" fill-opacity="0.2"/>
<text x="759.8" y="693.0" font-size="10.4" text-anchor="middle" fill="#777">2 326 276</text>
<text x="758.9" y="915.0" font-size="10.4" text-anchor="middle" fill="#777">2015</text>
<rect x="826.3" y="694.1" width="33.6" height="203.4" fill="#53a5d1" fill-opacity="1"/>
<text x="843.0" y="693.0" font-size="10.4" text-anchor="middle" fill="#777">2 360 115</text>
<text x="842.1" y="915.0" font-size="10.4" text-anchor="middle" fill="#777">2016</text>
</svg>
<!-- ===== stacked bar chart ===== -->
<svg width="1354" height="965" viewBox="0 0 1354 965">
<path d="M964.7 704.5 V893.8" stroke="#c0c0c0" stroke-width="1" stroke-dasharray="3.2 3.2" fill="none"/>
<path d="M1034.2 704.5 V893.8" stroke="#c0c0c0" stroke-width="1" stroke-dasharray="3.2 3.2" fill="none"/>
<path d="M1103.4 704.5 V893.8" stroke="#c0c0c0" stroke-width="1" stroke-dasharray="3.2 3.2" fill="none"/>
<path d="M1172.6 704.5 V893.8" stroke="#c0c0c0" stroke-width="1" stroke-dasharray="3.2 3.2" fill="none"/>
<path d="M1242.5 704.5 V893.8" stroke="#c0c0c0" stroke-width="1" stroke-dasharray="3.2 3.2" fill="none"/>
<path d="M1311.6 704.5 V893.8" stroke="#c0c0c0" stroke-width="1" stroke-dasharray="3.2 3.2" fill="none"/>
<rect x="964.7" y="716.0" width="94.3" height="15.7" fill="#ff0000" fill-opacity="0.165"/>
<rect x="1059.0" y="716.0" width="90.1" height="15.7" fill="#f4cd1e"/>
<rect x="1149.1" y="716.0" width="52.9" height="15.7" fill="#258ccb"/>
<rect x="1202.0" y="716.0" width="24.8" height="15.7" fill="#c99548"/>
<rect x="1226.8" y="716.0" width="22.8" height="15.7" fill="#00a400" fill-opacity="0.165"/>
<rect x="1249.6" y="716.0" width="15.3" height="15.7" fill="#5da0e0"/>
<rect x="1265.0" y="716.0" width="13.4" height="15.7" fill="#98cf4a"/>
<rect x="1278.4" y="716.0" width="13.7" height="15.7" fill="#f5a02e"/>
<rect x="1292.1" y="716.0" width="10.4" height="15.7" fill="#008e23" fill-opacity="0.141"/>
<rect x="1302.5" y="716.0" width="9.1" height="15.7" fill="#006f59" fill-opacity="0.09"/>
<text x="946.5" y="727.7" font-size="10.4" text-anchor="middle" fill="#777">2016</text>
<rect x="964.7" y="754.1" width="51.2" height="15.7" fill="#ff0000" fill-opacity="0.165"/>
<rect x="1016.0" y="754.1" width="34.6" height="15.7" fill="#f4cd1e"/>
<rect x="1050.5" y="754.1" width="84.2" height="15.7" fill="#258ccb"/>
<rect x="1134.8" y="754.1" width="39.2" height="15.7" fill="#c99548"/>
<rect x="1173.9" y="754.1" width="37.2" height="15.7" fill="#00a400" fill-opacity="0.165"/>
<rect x="1211.1" y="754.1" width="24.8" height="15.7" fill="#5da0e0"/>
<rect x="1235.9" y="754.1" width="23.2" height="15.7" fill="#98cf4a"/>
<rect x="1259.1" y="754.1" width="21.2" height="15.7" fill="#f5a02e"/>
<rect x="1280.3" y="754.1" width="16.3" height="15.7" fill="#008e23" fill-opacity="0.141"/>
<rect x="1296.6" y="754.1" width="15.0" height="15.7" fill="#006f59" fill-opacity="0.09"/>
<text x="946.5" y="765.8" font-size="10.4" text-anchor="middle" fill="#777">2015</text>
<rect x="964.7" y="791.7" width="53.2" height="15.7" fill="#ff0000" fill-opacity="0.165"/>
<rect x="1017.9" y="791.7" width="31.7" height="15.7" fill="#f4cd1e"/>
<rect x="1049.6" y="791.7" width="85.2" height="15.7" fill="#258ccb"/>
<rect x="1134.8" y="791.7" width="37.5" height="15.7" fill="#c99548"/>
<rect x="1172.3" y="791.7" width="35.9" height="15.7" fill="#00a400" fill-opacity="0.165"/>
<rect x="1208.2" y="791.7" width="26.1" height="15.7" fill="#5da0e0"/>
<rect x="1234.3" y="791.7" width="22.8" height="15.7" fill="#98cf4a"/>
<rect x="1257.1" y="791.7" width="21.2" height="15.7" fill="#f5a02e"/>
<rect x="1278.4" y="791.7" width="17.3" height="15.7" fill="#008e23" fill-opacity="0.141"/>
<rect x="1295.7" y="791.7" width="16.0" height="15.7" fill="#006f59" fill-opacity="0.09"/>
<text x="946.5" y="803.4" font-size="10.4" text-anchor="middle" fill="#777">2014</text>
<rect x="964.7" y="829.5" width="133.5" height="15.7" fill="#ff0000" fill-opacity="0.165"/>
<rect x="1098.2" y="829.5" width="24.8" height="15.7" fill="#f4cd1e"/>
<rect x="1123.0" y="829.5" width="53.9" height="15.7" fill="#258ccb"/>
<rect x="1176.9" y="829.5" width="29.7" height="15.7" fill="#c99548"/>
<rect x="1206.6" y="829.5" width="24.8" height="15.7" fill="#00a400" fill-opacity="0.165"/>
<rect x="1231.4" y="829.5" width="19.3" height="15.7" fill="#5da0e0"/>
<rect x="1250.6" y="829.5" width="17.3" height="15.7" fill="#98cf4a"/>
<rect x="1267.9" y="829.5" width="16.3" height="15.7" fill="#f5a02e"/>
<rect x="1284.2" y="829.5" width="13.7" height="15.7" fill="#008e23" fill-opacity="0.141"/>
<rect x="1297.9" y="829.5" width="13.7" height="15.7" fill="#006f59" fill-opacity="0.09"/>
<text x="946.5" y="841.2" font-size="10.4" text-anchor="middle" fill="#777">2013</text>
<rect x="964.7" y="867.4" width="60.7" height="15.7" fill="#ff0000" fill-opacity="0.165"/>
<rect x="1025.4" y="867.4" width="36.6" height="15.7" fill="#f4cd1e"/>
<rect x="1062.0" y="867.4" width="69.8" height="15.7" fill="#258ccb"/>
<rect x="1131.8" y="867.4" width="45.0" height="15.7" fill="#c99548"/>
<rect x="1176.9" y="867.4" width="31.3" height="15.7" fill="#00a400" fill-opacity="0.165"/>
<rect x="1208.2" y="867.4" width="31.0" height="15.7" fill="#5da0e0"/>
<rect x="1239.2" y="867.4" width="20.9" height="15.7" fill="#98cf4a"/>
<rect x="1260.1" y="867.4" width="21.2" height="15.7" fill="#f5a02e"/>
<rect x="1281.3" y="867.4" width="22.2" height="15.7" fill="#008e23" fill-opacity="0.141"/>
<rect x="1303.5" y="867.4" width="8.2" height="15.7" fill="#006f59" fill-opacity="0.09"/>
<text x="946.5" y="879.1" font-size="10.4" text-anchor="middle" fill="#777">2012</text>
<path d="M964.7 893.8 H1311.6" stroke="#c8c8c8" stroke-width="1" fill="none"/>
<text x="964.2" y="912.6" font-size="10.4" text-anchor="middle" fill="#777">0%</text>
<text x="1033.7" y="912.6" font-size="10.4" text-anchor="middle" fill="#777">20%</text>
<text x="1102.9" y="912.6" font-size="10.4" text-anchor="middle" fill="#777">40%</text>
<text x="1172.1" y="912.6" font-size="10.4" text-anchor="middle" fill="#777">60%</text>
<text x="1242.0" y="912.6" font-size="10.4" text-anchor="middle" fill="#777">80%</text>
<text x="1309.6" y="912.6" font-size="10.4" text-anchor="middle" fill="#777">100%</text>
</svg>
<!-- ===== status bar ===== -->
<div class="abs" style="left:0;top:944px;width:1354px;height:21px;background:#258ccb"></div>
<div class="t ui" style="left:6px;top:949px;color:#fff">Waiting...</div>
<div class="t ui" style="left:1216.5px;top:950px;font-size:10.3px;letter-spacing:.2px;color:#7fbde6">CAP</div>
<div class="t ui" style="left:1256px;top:950px;font-size:10.3px;font-weight:bold;letter-spacing:.2px;color:#fff">NUM</div>
<div class="t ui" style="left:1302px;top:950px;font-size:10.3px;letter-spacing:.2px;color:#7fbde6">SCRL</div>
<div class="abs" style="left:1245px;top:946px;width:1px;height:17px;background:#d6e9f6"></div>
<div class="abs" style="left:1291px;top:946px;width:1px;height:17px;background:#d6e9f6"></div>
<div class="abs" style="left:1336px;top:946px;width:1px;height:17px;background:#d6e9f6"></div>
<svg width="1354" height="965" viewBox="0 0 1354 965" style="pointer-events:none">
  <path d="M1342 964.5 L1353 953.5 M1345.7 964.5 L1353 957.2 M1349.4 964.5 L1353 960.9" stroke="#a4cdea" stroke-width="1.2"/>
</svg>
<!-- window frame -->
<div class="abs" style="left:0;top:0;width:1354px;height:965px;border:1px solid #4d4d4d;pointer-events:none"></div>
</body>
</html>
